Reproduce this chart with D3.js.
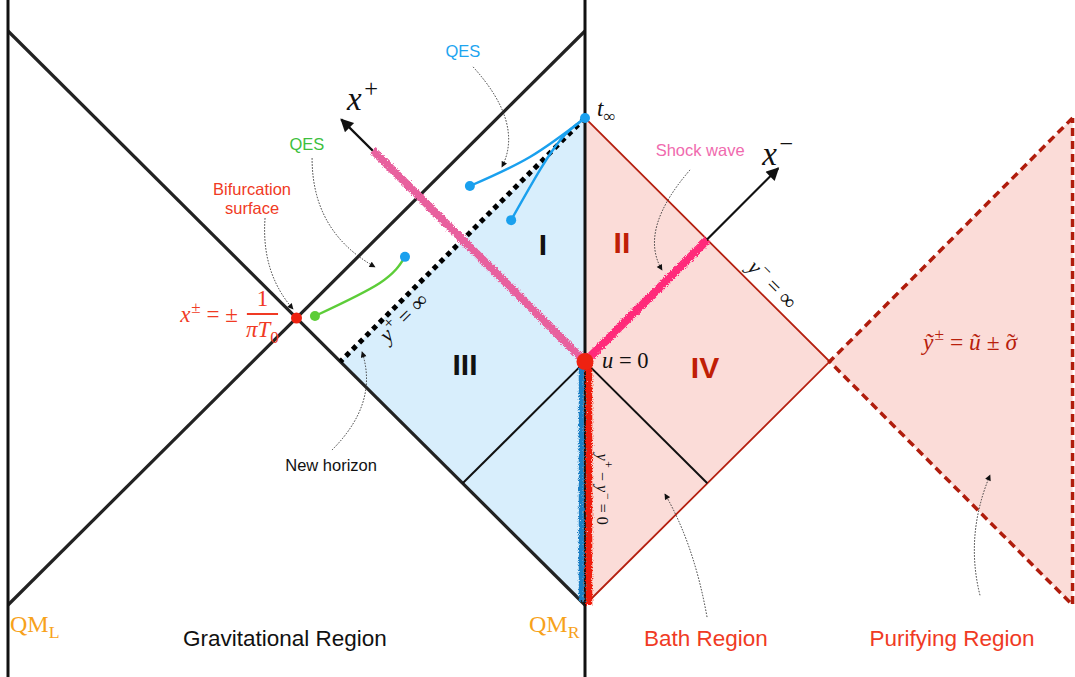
<!DOCTYPE html>
<html>
<head>
<meta charset="utf-8">
<script src="https://cdn.jsdelivr.net/npm/d3@7"></script>
<style>
  body { margin: 0; background: #fff; }
  svg { display: block; }
  .sans { font-family: "Liberation Sans", Arial, Helvetica, sans-serif; }
  .math { font-family: "Liberation Serif", "Times New Roman", serif; }
</style>
</head>
<body>
<svg id="chart" width="1075" height="677"></svg>
<script>
// diagram coordinates: sigma (horizontal), t (vertical); QM_L at -2, QM_R at 0
const boundaries = [-2, 0];
const boundarySpan = [1.12, -1.26];
const gravDiagonals = [[[-2, 1], [0, -1]], [[-2, -1], [0, 1]]];
const regionBlue = [[0, 0.697], [-0.848, -0.152], [0, -1]];
const regionPink = [[0, 0.697], [0.848, -0.152], [0, -1]];
const regionPurify = [[0.848, -0.152], [1.69, 0.697], [1.69, -1]];
const innerLines = [[[0, -0.152], [-0.424, -0.576]], [[0, -0.152], [0.424, -0.576]]];
const horizon = [[0, 0.697], [-0.848, -0.152]];
const axisPlus = [[0, -0.152], [-0.845, 0.692]];
const axisMinus = [[0, -0.152], [0.67, 0.522]];
const shockPlus = [[0, -0.152], [-0.735, 0.584]];
const shockMinus = [[0, -0.152], [0.424, 0.272]];
const bathBlue = [[-0.013, -0.17], [-0.013, -0.985]];
const bathRed = [[0.014, -0.152], [0.014, -1]];
const qesBlueA = [[-0.399, 0.460], [-0.191, 0.561], [0, 0.697]];
const qesBlueB = [[-0.256, 0.341], [-0.156, 0.516], [-0.076, 0.631], [0, 0.697]];
const qesGreen = [[-0.936, 0.007], [-0.711, 0.122], [-0.624, 0.213]];
const blueDots = [[0, 0.697], [-0.399, 0.460], [-0.256, 0.341], [-0.624, 0.213]];
const greenDots = [[-0.936, 0.007]];
const bifurcation = [-1, 0];
const uZero = [0, -0.152];

// dotted pointer curves: start, control, end
const pointers = [
  [[-0.388, 0.875], [-0.211, 0.679], [-0.288, 0.526]],
  [[-0.946, 0.557], [-0.946, 0.301], [-0.728, 0.178]],
  [[-1.109, 0.348], [-1.123, 0.159], [-1.012, 0.031]],
  [[-0.877, -0.460], [-0.714, -0.296], [-0.773, -0.118]],
  [[0.364, 0.516], [0.184, 0.307], [0.267, 0.167]],
  [[0.423, -1.042], [0.378, -0.789], [0.277, -0.613]],
  [[1.369, -0.966], [1.317, -0.756], [1.404, -0.547]]
];

const sansLabels = [
  {text: "QES", at: [-0.423, 0.909], color: "#1ea5f0"},
  {text: "QES", at: [-0.964, 0.585], color: "#3dbf3d"},
  {text: "Bifurcation", at: [-1.154, 0.429], color: "#f03a24"},
  {text: "surface", at: [-1.154, 0.362], color: "#f03a24"},
  {text: "Shock wave", at: [0.399, 0.564], color: "#f06aae"},
  {text: "New horizon", at: [-0.880, -0.533], color: "#111"},
  {text: "Gravitational Region", at: [-1.040, -1.143], color: "#111", big: 1},
  {text: "Bath Region", at: [0.419, -1.143], color: "#f03a24", big: 1},
  {text: "Purifying Region", at: [1.272, -1.143], color: "#f03a24", big: 1}
];
const numerals = [
  {text: "I", at: [-0.146, 0.220], color: "#111"},
  {text: "II", at: [0.128, 0.226], color: "#c01e06"},
  {text: "III", at: [-0.416, -0.199], color: "#111"},
  {text: "IV", at: [0.416, -0.209], color: "#c01e06"}
];
// parts: [text, position, italic, dx in em]
const mathLabels = [
  {parts: [["x", "", 1], ["+", "sup", 0, 0.08]], at: [-0.825, 0.725], size: 33, color: "#111", anchor: "start"},
  {parts: [["x", "", 1], ["\u2212", "sup", 0, 0.08]], at: [0.614, 0.533], size: 33, color: "#111", anchor: "start"},
  {parts: [["t", "", 1], ["\u221e", "sub", 0]], at: [0.042, 0.704], size: 23, color: "#111", anchor: "start"},
  {parts: [["u", "", 1], [" = 0", "", 0]], at: [0.059, -0.174], size: 22.5, color: "#111", anchor: "start"},
  {parts: [["y", "", 1], ["+", "sup", 0, 0.05], [" = \u221e", "", 0]], at: [-0.627, 0.0], size: 22, color: "#111", anchor: "middle", rot: -45},
  {parts: [["y", "", 1], ["\u2212", "sup", 0, 0.05], [" = \u221e", "", 0]], at: [0.648, 0.115], size: 22, color: "#111", anchor: "middle", rot: 45},
  {parts: [["y", "", 1], ["+", "sup", 0, 0.05], [" \u2212 ", "", 0], ["y", "", 1], ["\u2212", "sup", 0, 0.05], [" = 0", "", 0]], at: [0.059, -0.596], size: 16, color: "#111", anchor: "middle", rot: 90},
  {parts: [["\u1ef9", "", 1], ["\u00b1", "sup", 0, 0.04], [" = ", "", 0], ["\u0169", "", 1], [" \u00b1 ", "", 0], ["\u03c3", "", 1], ["\u02dc", "acc", 0, -0.42]], at: [1.172, -0.111], size: 23.5, color: "#b8200c", anchor: "start"},
  {parts: [["x", "", 1], ["\u00b1", "sup", 0, 0.04], [" = \u00b1", "", 0]], at: [-1.403, -0.014], size: 23, color: "#f03a24", anchor: "start"},
  {parts: [["1", "", 0]], at: [-1.118, 0.042], size: 23, color: "#f03a24", anchor: "middle"},
  {parts: [["\u03c0", "", 1], ["T", "", 1], ["0", "sub", 0]], at: [-1.118, -0.066], size: 23, color: "#f03a24", anchor: "middle"},
  {parts: [["QM", "", 0], ["L", "sub", 0]], at: [-1.993, -1.094], size: 24, color: "#f7a21b", anchor: "start"},
  {parts: [["QM", "", 0], ["R", "sub", 0]], at: [-0.194, -1.094], size: 24, color: "#f7a21b", anchor: "start"}
];
const fractionBar = [[-1.172, 0.014], [-1.064, 0.014]];

const x = d3.scaleLinear().domain([-2, 0]).range([8, 585]);
const y = d3.scaleLinear().domain([-1, 1]).range([605, 31]);
const line = d3.line().x(d => x(d[0])).y(d => y(d[1]));
const smooth = d3.line().x(d => x(d[0])).y(d => y(d[1])).curve(d3.curveNatural);

const svg = d3.select("#chart");
const defs = svg.append("defs");

const rough = defs.append("filter").attr("id", "rough")
  .attr("filterUnits", "userSpaceOnUse")
  .attr("x", 0).attr("y", 0).attr("width", 1075).attr("height", 677);
rough.append("feTurbulence").attr("type", "fractalNoise")
  .attr("baseFrequency", 1.3).attr("numOctaves", 2).attr("result", "noise");
rough.append("feDisplacementMap").attr("in", "SourceGraphic").attr("in2", "noise")
  .attr("scale", 5).attr("xChannelSelector", "R").attr("yChannelSelector", "G");

function marker(id, w, h) {
  defs.append("marker").attr("id", id)
    .attr("viewBox", "0 0 10 10").attr("refX", 9).attr("refY", 5)
    .attr("markerUnits", "userSpaceOnUse")
    .attr("markerWidth", w).attr("markerHeight", h)
    .attr("orient", "auto")
    .append("path").attr("d", "M0,0 L10,5 L0,10 z").attr("fill", "#111");
}
marker("bigtip", 16, 13);
marker("tip", 7, 6);

// region fills
svg.append("path").attr("d", line(regionPurify) + "Z").attr("fill", "#fbdcd8");
svg.append("path").attr("d", line(regionBlue) + "Z").attr("fill", "#d8eefc");
svg.append("path").attr("d", line(regionPink) + "Z").attr("fill", "#fbdcd8");

// bath & purifying edges
svg.append("path").attr("d", line(regionPink.slice(0, 3)))
  .attr("fill", "none").attr("stroke", "#b52010").attr("stroke-width", 1.8);
svg.append("path").attr("d", line([regionPurify[1], regionPurify[0], regionPurify[2], regionPurify[1]]))
  .attr("fill", "none").attr("stroke", "#b01c0c").attr("stroke-width", 3.5)
  .attr("stroke-dasharray", "8 5");

// gravitational region
svg.selectAll(".diag").data(gravDiagonals).enter().append("path")
  .attr("class", "diag").attr("d", line)
  .attr("fill", "none").attr("stroke", "#222").attr("stroke-width", 3.2);
svg.selectAll(".bound").data(boundaries).enter().append("line")
  .attr("class", "bound")
  .attr("x1", d => x(d)).attr("x2", d => x(d))
  .attr("y1", y(boundarySpan[0])).attr("y2", y(boundarySpan[1]))
  .attr("stroke", "#111").attr("stroke-width", 3);
svg.selectAll(".inner").data(innerLines).enter().append("path")
  .attr("class", "inner").attr("d", line)
  .attr("fill", "none").attr("stroke", "#111").attr("stroke-width", 2);

// new horizon y+ = infinity
svg.append("path").attr("d", line(horizon))
  .attr("fill", "none").attr("stroke", "#000").attr("stroke-width", 5)
  .attr("stroke-dasharray", "5 4.5");

// axes with arrows
[axisPlus, axisMinus].forEach(a => {
  svg.append("path").attr("d", line(a)).attr("fill", "none")
    .attr("stroke", "#111").attr("stroke-width", 2.2)
    .attr("marker-end", "url(#bigtip)");
});

// shock waves and bath boundary, drawn rough
const roughG = svg.append("g").attr("filter", "url(#rough)");
roughG.append("path").attr("d", line(shockPlus)).attr("fill", "none")
  .attr("stroke", "#e8619e").attr("stroke-width", 8);
roughG.append("path").attr("d", line(shockMinus)).attr("fill", "none")
  .attr("stroke", "#ff2a7a").attr("stroke-width", 8);
roughG.append("path").attr("d", line(bathBlue)).attr("fill", "none")
  .attr("stroke", "#1a7fc4").attr("stroke-width", 5);
roughG.append("path").attr("d", line(bathRed)).attr("fill", "none")
  .attr("stroke", "#f01e0c").attr("stroke-width", 6.5);

// QES curves
[qesBlueA, qesBlueB].forEach(c => {
  svg.append("path").attr("d", smooth(c)).attr("fill", "none")
    .attr("stroke", "#1aa0ee").attr("stroke-width", 2.4);
});
svg.append("path").attr("d", smooth(qesGreen)).attr("fill", "none")
  .attr("stroke", "#5ccd38").attr("stroke-width", 2.4);
svg.selectAll(".bdot").data(blueDots).enter().append("circle")
  .attr("cx", d => x(d[0])).attr("cy", d => y(d[1])).attr("r", 5)
  .attr("fill", "#1aa0ee");
svg.selectAll(".gdot").data(greenDots).enter().append("circle")
  .attr("cx", d => x(d[0])).attr("cy", d => y(d[1])).attr("r", 5)
  .attr("fill", "#5ccd38");
svg.append("circle").attr("cx", x(bifurcation[0])).attr("cy", y(bifurcation[1]))
  .attr("r", 5.5).attr("fill", "#ee2211");
svg.append("circle").attr("cx", x(uZero[0])).attr("cy", y(uZero[1]))
  .attr("r", 8.5).attr("fill", "#ee2211");

// dotted pointers
function qPath(p) {
  const path = d3.path();
  path.moveTo(x(p[0][0]), y(p[0][1]));
  path.quadraticCurveTo(x(p[1][0]), y(p[1][1]), x(p[2][0]), y(p[2][1]));
  return path.toString();
}
svg.selectAll(".ptr").data(pointers).enter().append("path")
  .attr("class", "ptr").attr("d", qPath)
  .attr("fill", "none").attr("stroke", "#333").attr("stroke-width", 1)
  .attr("stroke-dasharray", "1.5 1.5")
  .attr("marker-end", "url(#tip)");

// labels
svg.selectAll(".lbl").data(sansLabels).enter().append("text")
  .attr("class", "sans")
  .attr("x", d => x(d.at[0])).attr("y", d => y(d.at[1]))
  .attr("text-anchor", "middle")
  .attr("font-size", d => d.big ? 22.5 : 16.5)
  .attr("fill", d => d.color)
  .text(d => d.text);

svg.selectAll(".num").data(numerals).enter().append("text")
  .attr("class", "sans")
  .attr("x", d => x(d.at[0])).attr("y", d => y(d.at[1]))
  .attr("text-anchor", "middle")
  .attr("font-size", 30).attr("font-weight", "bold")
  .attr("fill", d => d.color)
  .text(d => d.text);

mathLabels.forEach(m => {
  const t = svg.append("text").attr("class", "math")
    .attr("fill", m.color).attr("font-size", m.size)
    .attr("text-anchor", m.anchor);
  if (m.rot) {
    t.attr("transform", `translate(${x(m.at[0])},${y(m.at[1])}) rotate(${m.rot})`)
      .attr("y", m.size * 0.3);
  } else {
    t.attr("x", x(m.at[0])).attr("y", y(m.at[1]));
  }
  let prev = 0;
  m.parts.forEach(([s, k, it, dx]) => {
    const shift = k === "sup" ? -m.size * 0.4 : k === "sub" ? m.size * 0.25 : 0;
    const small = k === "sup" || k === "sub";
    t.append("tspan")
      .attr("dx", dx ? dx * m.size : 0)
      .attr("dy", shift - prev)
      .attr("font-size", small ? m.size * 0.74 : m.size)
      .attr("font-style", it ? "italic" : "normal")
      .text(s);
    prev = shift;
  });
});

svg.append("path").attr("d", line(fractionBar))
  .attr("stroke", "#f03a24").attr("stroke-width", 2);
</script>
</body>
</html>
